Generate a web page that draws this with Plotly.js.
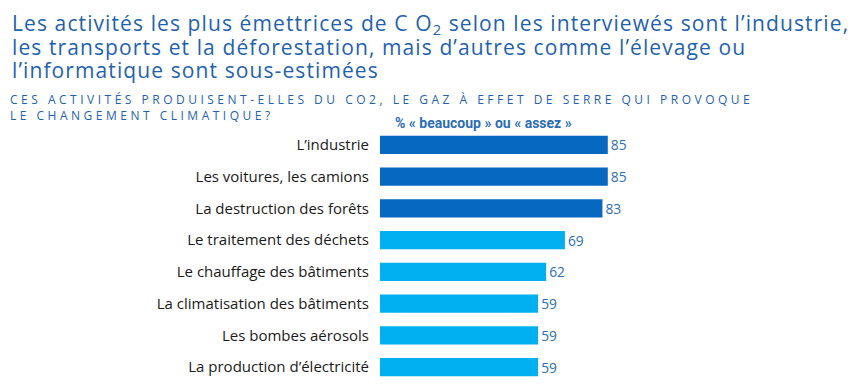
<!DOCTYPE html>
<html><head><meta charset="utf-8">
<script src="https://cdn.plot.ly/plotly-3.0.1.min.js"></script>
<style>
html,body{margin:0;padding:0;background:#fff;}
g.annotation[data-index="0"] text, g.annotation[data-index="1"] text, g.annotation[data-index="2"] text{letter-spacing:1.1px;}
g.annotation[data-index="3"] text{letter-spacing:3.5px;}
</style>
</head><body>
<div id="chart" style="width:850px;height:388px;"></div>
<script>
const categories = ["L’industrie","Les voitures, les camions","La destruction des forêts","Le traitement des déchets","Le chauffage des bâtiments","La climatisation des bâtiments","Les bombes aérosols","La production d’électricité"];
const values = [85,85,83,69,62,59,59,59];
const highlight = [true,true,true,false,false,false,false,false];
const titleLines = ["Les activités les plus émettrices de C O<sub>2</sub> selon les interviewés sont l’industrie,", "les transports et la déforestation, mais d’autres comme l’élevage ou", "l’informatique sont sous-estimées"];
const subtitleText = "CES ACTIVITÉS PRODUISENT-ELLES DU CO2, LE GAZ À EFFET DE SERRE QUI PROVOQUE<br>LE CHANGEMENT CLIMATIQUE?";
const headerText = "<b>% « beaucoup » ou « assez »</b>";

const colors = highlight.map(h => h ? "#0768c2" : "#00b0f0");
const trace = {
  type: "bar", orientation: "h",
  x: values, y: categories,
  marker: {color: colors},
  width: 0.58,
  text: values.map(String), textposition: "outside", cliponaxis: false,
  textfont: {family: "Open Sans, sans-serif", size: 15, color: "#2c6db3"},
  hoverinfo: "none"
};
const PW = 268, PH = 254, T = 129;
const px = v => (v - 380) / PW;
const py = v => 1 + (T - v) / PH;
const titleTops = [7, 30.5, 54];
const annotations = titleLines.map((t, i) => ({
  xref: "paper", yref: "paper", x: px(10), y: py(titleTops[i]), xanchor: "left", yanchor: "top",
  text: t, showarrow: false, align: "left",
  font: {family: "Open Sans, sans-serif", size: 21, color: "#1f62ad"}
}));
annotations.push(
  {xref: "paper", yref: "paper", x: px(8), y: py(89), xanchor: "left", yanchor: "top",
   text: subtitleText, showarrow: false, align: "left",
   font: {family: "Open Sans, sans-serif", size: 12, color: "#1f62ad"}},
  {xref: "paper", yref: "paper", x: px(483), y: py(123), xanchor: "center", yanchor: "middle",
   text: headerText, showarrow: false,
   font: {family: "Roboto, sans-serif", size: 14, color: "#2c6db3"}}
);
const layout = {
  width: 850, height: 388,
  margin: {l: 380, r: 202, t: T, b: 5},
  paper_bgcolor: "#fff", plot_bgcolor: "#fff",
  showlegend: false,
  xaxis: {range: [0, 100], visible: false, fixedrange: true},
  yaxis: {autorange: "reversed", showgrid: false, zeroline: false, showline: false,
          ticks: "", ticklabelstandoff: 10,
          tickfont: {family: "Open Sans, sans-serif", size: 15, color: "#1a1a1a"}},
  annotations: annotations
};
Plotly.newPlot("chart", [trace], layout, {displayModeBar: false, staticPlot: true});
</script>
</body></html>
